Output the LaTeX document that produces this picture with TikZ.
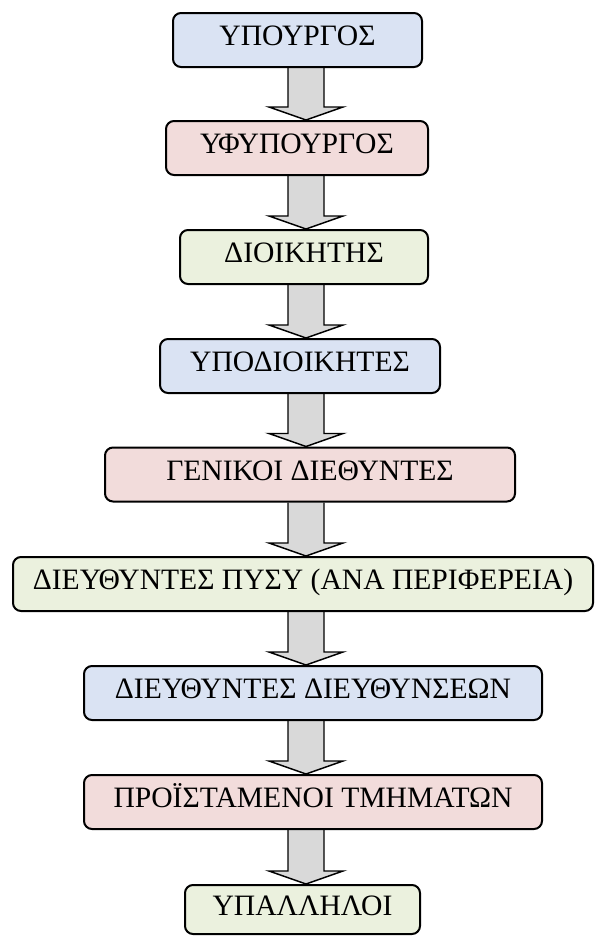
\documentclass[tikz,border=0pt]{standalone}
\usepackage{fontspec}
\setmainfont{Liberation Serif}
\usepackage{tikz}
\usetikzlibrary{calc,backgrounds}

\definecolor{bluebox}{HTML}{DAE3F3}
\definecolor{pinkbox}{HTML}{F2DCDB}
\definecolor{greenbox}{HTML}{EBF1DE}
\definecolor{arrowgray}{HTML}{D9D9D9}

\tikzset{
  rank/.style={draw=black, line width=1.5pt, rounded corners=6pt, inner sep=0pt,
    minimum height=54*0.75pt, text height=0.87em, text depth=0pt,
    font=\fontsize{22.2}{25}\selectfont},
  fatarrow/.style={draw=black, fill=arrowgray, line width=1.1pt, line join=miter}
}

\begin{document}
\begin{tikzpicture}[x=0.75pt,y=-0.75pt]
  \useasboundingbox (0,0) rectangle (594,936);
  \coordinate (spine) at (306,0);  % every arrow sits on this vertical line

  \node[rank,fill=bluebox,minimum width=249*0.75pt]  (ypourgos)   at (297.5,40)  {ΥΠΟΥΡΓΟΣ};
  \node[rank,fill=pinkbox,minimum width=262*0.75pt]  (yfypourgos) at (297,148)   {ΥΦΥΠΟΥΡΓΟΣ};
  \node[rank,fill=greenbox,minimum width=248*0.75pt] (dioikitis)  at (304,257)   {ΔΙΟΙΚΗΤΗΣ};
  \node[rank,fill=bluebox,minimum width=280*0.75pt]  (ypodioik)   at (300,366)   {ΥΠΟΔΙΟΙΚΗΤΕΣ};
  \node[rank,fill=pinkbox,minimum width=410*0.75pt]  (genikoi)    at (310,474.5) {ΓΕΝΙΚΟΙ ΔΙΕΘΥΝΤΕΣ};
  \node[rank,fill=greenbox,minimum width=580*0.75pt] (pysy)       at (303,584)   {ΔΙΕΥΘΥΝΤΕΣ ΠΥΣΥ (ΑΝΑ ΠΕΡΙΦΕΡΕΙΑ)};
  \node[rank,fill=bluebox,minimum width=458*0.75pt]  (dieythynt)  at (313,693)   {ΔΙΕΥΘΥΝΤΕΣ ΔΙΕΥΘΥΝΣΕΩΝ};
  \node[rank,fill=pinkbox,minimum width=458*0.75pt]  (tmimata)    at (313,802)   {ΠΡΟΪΣΤΑΜΕΝΟΙ ΤΜΗΜΑΤΩΝ};
  \node[rank,fill=greenbox,minimum width=235*0.75pt,minimum height=49*0.75pt] (ypalliloi) at (302.5,909.5) {ΥΠΑΛΛΗΛΟΙ};

  % block arrows go under the boxes
  \begin{scope}[on background layer]
    \foreach \a/\b in {ypourgos/yfypourgos, yfypourgos/dioikitis, dioikitis/ypodioik,
                       ypodioik/genikoi, genikoi/pysy, pysy/dieythynt,
                       dieythynt/tmimata, tmimata/ypalliloi} {
      \coordinate (s) at (\a.south -| spine);
      \coordinate (t) at (\b.north -| spine);
      \draw[fatarrow] ($(s)+(-18,0)$) -- ($(t)+(-18,-13)$) -- ($(t)+(-37,-13)$) -- (t)
        -- ($(t)+(37,-13)$) -- ($(t)+(18,-13)$) -- ($(s)+(18,0)$);
    }
  \end{scope}
\end{tikzpicture}
\end{document}
